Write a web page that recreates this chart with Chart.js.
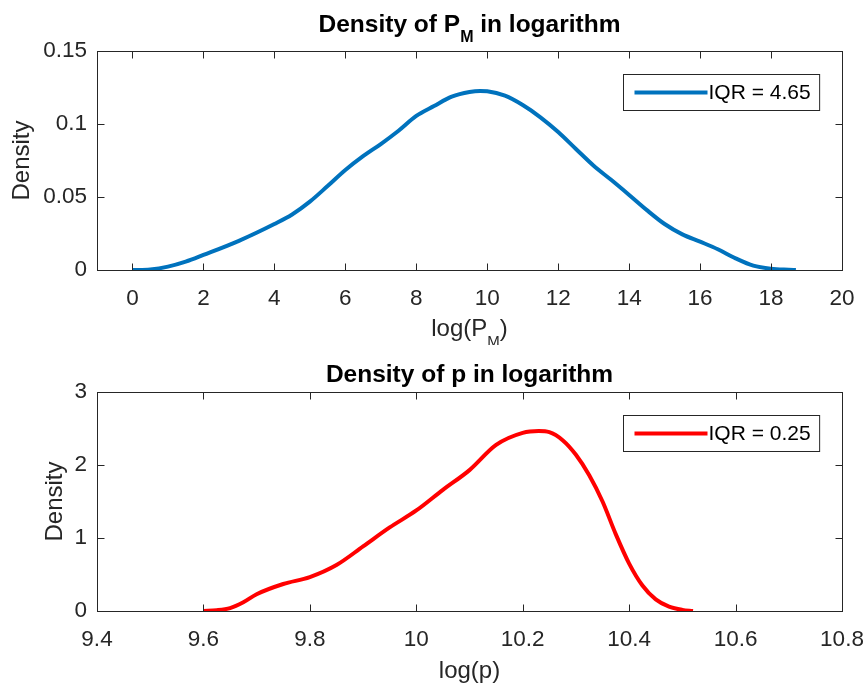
<!DOCTYPE html>
<html>
<head>
<meta charset="utf-8">
<script src="https://cdn.jsdelivr.net/npm/chart.js@4.4.1/dist/chart.umd.min.js"></script>
<style>
  body { margin: 0; background: #fff; }
  .panel { width: 866px; height: 345px; }
  canvas { display: block; }
</style>
</head>
<body>
<div class="panel"><canvas id="pm-chart" width="866" height="345"></canvas></div>
<div class="panel"><canvas id="p-chart" width="866" height="345"></canvas></div>
<script>
// Density of P_M (log) - blue curve
const pmX = [0, 0.5, 1, 1.5, 2, 3, 4, 4.5, 5, 5.5, 6, 6.5, 7, 7.5, 8, 8.5, 9, 9.5, 9.8, 10, 10.5, 11, 11.5, 12, 12.5, 13, 13.5, 14, 14.5, 15, 15.5, 16, 16.5, 17, 17.5, 18, 18.5, 18.7];
const pmDensity = [0, 0.0004, 0.0023, 0.0057, 0.0103, 0.020, 0.0315, 0.038, 0.0468, 0.0575, 0.0685, 0.078, 0.0863, 0.0954, 0.1055, 0.1123, 0.1187, 0.1219, 0.1226, 0.1224, 0.1194, 0.113, 0.1046, 0.0945, 0.0829, 0.0714, 0.0616, 0.0514, 0.041, 0.0315, 0.0244, 0.0194, 0.0142, 0.008, 0.003, 0.0009, 0.0002, 0];
const pmTicksX = [0, 2, 4, 6, 8, 10, 12, 14, 16, 18, 20];
const pmTickLabelsX = ['0', '2', '4', '6', '8', '10', '12', '14', '16', '18', '20'];
const pmTicksY = [0, 0.05, 0.1, 0.15];
const pmTickLabelsY = ['0', '0.05', '0.1', '0.15'];

// Density of p (log) - red curve
const pX = [9.6, 9.625, 9.65, 9.675, 9.7, 9.75, 9.8, 9.85, 9.9, 9.95, 10, 10.05, 10.1, 10.15, 10.2, 10.23, 10.25, 10.275, 10.3, 10.325, 10.35, 10.375, 10.4, 10.425, 10.45, 10.475, 10.5, 10.52];
const pDensity = [0, 0.01, 0.04, 0.12, 0.23, 0.37, 0.465, 0.63, 0.885, 1.145, 1.377, 1.66, 1.93, 2.275, 2.44, 2.465, 2.45, 2.34, 2.14, 1.86, 1.5, 1.05, 0.65, 0.35, 0.16, 0.06, 0.015, 0];
const pTicksX = [9.4, 9.6, 9.8, 10, 10.2, 10.4, 10.6, 10.8];
const pTickLabelsX = ['9.4', '9.6', '9.8', '10', '10.2', '10.4', '10.6', '10.8'];
const pTicksY = [0, 1, 2, 3];
const pTickLabelsY = ['0', '1', '2', '3'];

const FONT = "'Liberation Sans', Arial, Helvetica, sans-serif";
const AXIS_COLOR = '#262626';
Chart.defaults.font.family = FONT;

// draws text made of pieces, some of them subscript
function richWidth(ctx, segs, font, subFont) {
    let w = 0;
    segs.forEach(s => {
        ctx.font = s.sub ? subFont : font;
        w += ctx.measureText(s.t).width;
    });
    return w;
}

function drawRich(ctx, segs, cx, y, font, subFont, subShift) {
    let x = cx - richWidth(ctx, segs, font, subFont) / 2;
    ctx.textAlign = 'left';
    ctx.textBaseline = 'alphabetic';
    segs.forEach(s => {
        ctx.font = s.sub ? subFont : font;
        ctx.fillText(s.t, x, s.sub ? y + subShift : y);
        x += ctx.measureText(s.t).width;
    });
}

// box, inward ticks, titles and legend, MATLAB style
const axesDecor = {
    id: 'axesDecor',
    afterDraw(chart, args, o) {
        const { ctx, chartArea: a, scales } = chart;
        const tl = 7;
        const L = Math.round(a.left) + 0.5, R = Math.round(a.right) + 0.5;
        const T = Math.round(a.top) + 0.5, B = Math.round(a.bottom) + 0.5;
        ctx.save();
        ctx.strokeStyle = AXIS_COLOR;
        ctx.lineWidth = 1;
        ctx.beginPath();
        scales.x.ticks.forEach(t => {
            const px = Math.round(scales.x.getPixelForValue(t.value)) + 0.5;
            ctx.moveTo(px, B); ctx.lineTo(px, B - tl);
            ctx.moveTo(px, T); ctx.lineTo(px, T + tl);
        });
        scales.y.ticks.forEach(t => {
            const py = Math.round(scales.y.getPixelForValue(t.value)) + 0.5;
            ctx.moveTo(L, py); ctx.lineTo(L + tl, py);
            ctx.moveTo(R, py); ctx.lineTo(R - tl, py);
        });
        ctx.stroke();
        ctx.strokeRect(L, T, R - L, B - T);

        // title
        ctx.fillStyle = '#000';
        drawRich(ctx, o.title, (a.left + a.right) / 2, o.titleY, 'bold 24.5px ' + FONT, 'bold 16px ' + FONT, 10);

        // x label
        ctx.fillStyle = AXIS_COLOR;
        drawRich(ctx, o.xLabel, (a.left + a.right) / 2, o.xLabelY, '24px ' + FONT, '15px ' + FONT, 10);

        // y label
        ctx.save();
        ctx.translate(o.yLabelX, (a.top + a.bottom) / 2);
        ctx.rotate(-Math.PI / 2);
        ctx.font = '24px ' + FONT;
        ctx.textAlign = 'center';
        ctx.textBaseline = 'alphabetic';
        ctx.fillText(o.yLabel, 0, 0);
        ctx.restore();

        // legend
        const ds = chart.data.datasets[0];
        ctx.font = '21px ' + FONT;
        const tw = ctx.measureText(ds.label).width;
        const bw = 85 + tw + 9, bh = 36;
        const bx = Math.round(a.right - 23 - bw) + 0.5, by = Math.round(a.top + 23) + 0.5;
        ctx.fillStyle = '#fff';
        ctx.fillRect(bx, by, bw, bh);
        ctx.strokeStyle = AXIS_COLOR;
        ctx.lineWidth = 1;
        ctx.strokeRect(bx, by, bw, bh);
        const my = by + bh / 2;
        ctx.strokeStyle = ds.borderColor;
        ctx.lineWidth = ds.borderWidth;
        ctx.beginPath();
        ctx.moveTo(bx + 11, my);
        ctx.lineTo(bx + 84, my);
        ctx.stroke();
        ctx.fillStyle = '#000';
        ctx.textAlign = 'left';
        ctx.textBaseline = 'middle';
        ctx.fillText(ds.label, bx + 85, my + 1);
        ctx.restore();
    }
};

function fixedTicks(values) {
    return scale => { scale.ticks = values.map(v => ({ value: v })); };
}

function makeChart(el, xs, ys, color, label, xr, yr, xTicks, xLabels, yTicks, yLabels, box, decor) {
    return new Chart(document.getElementById(el), {
        type: 'line',
        data: {
            datasets: [{
                label: label,
                data: xs.map((x, i) => ({ x: x, y: ys[i] })),
                borderColor: color,
                borderWidth: 4,
                pointRadius: 0,
                fill: false,
                cubicInterpolationMode: 'monotone',
                borderCapStyle: 'butt'
            }]
        },
        options: {
            responsive: false,
            animation: false,
            layout: { padding: { left: 0, bottom: 0, top: box.top, right: box.right } },
            plugins: {
                legend: { display: false },
                title: { display: false },
                tooltip: { enabled: false },
                axesDecor: decor
            },
            scales: {
                x: {
                    type: 'linear',
                    min: xr[0], max: xr[1],
                    afterBuildTicks: fixedTicks(xTicks),
                    afterFit: s => {
                        s.height = box.bottom;
                        s.paddingLeft = 0;
                        s.paddingRight = 0;
                    },
                    grid: { display: false, drawTicks: false },
                    border: { display: false },
                    ticks: {
                        autoSkip: false, maxRotation: 0, padding: 15,
                        color: AXIS_COLOR, font: { size: 22.5 },
                        callback: (v, i) => xLabels[i]
                    }
                },
                y: {
                    type: 'linear',
                    min: yr[0], max: yr[1],
                    afterBuildTicks: fixedTicks(yTicks),
                    afterFit: s => {
                        s.width = box.left;
                        s.paddingTop = 0;
                        s.paddingBottom = 0;
                    },
                    grid: { display: false, drawTicks: false },
                    border: { display: false },
                    ticks: {
                        autoSkip: false, padding: 10,
                        color: AXIS_COLOR, font: { size: 22.5 },
                        callback: (v, i) => yLabels[i]
                    }
                }
            }
        },
        plugins: [axesDecor]
    });
}

makeChart('pm-chart', pmX, pmDensity, '#0072BD', 'IQR = 4.65', [-1, 20], [0, 0.15],
    pmTicksX, pmTickLabelsX, pmTicksY, pmTickLabelsY,
    { left: 97, top: 51, right: 24, bottom: 75 },
    {
        title: [{ t: 'Density of P' }, { t: 'M', sub: true }, { t: ' in logarithm' }],
        titleY: 32,
        xLabel: [{ t: 'log(P' }, { t: 'M', sub: true }, { t: ')' }],
        xLabelY: 336,
        yLabel: 'Density',
        yLabelX: 29
    });

makeChart('p-chart', pX, pDensity, '#FF0000', 'IQR = 0.25', [9.4, 10.8], [0, 3],
    pTicksX, pTickLabelsX, pTicksY, pTickLabelsY,
    { left: 97, top: 47, right: 24, bottom: 79 },
    {
        title: [{ t: 'Density of p in logarithm' }],
        titleY: 37,
        xLabel: [{ t: 'log(p)' }],
        xLabelY: 333,
        yLabel: 'Density',
        yLabelX: 62
    });
</script>
</body>
</html>
